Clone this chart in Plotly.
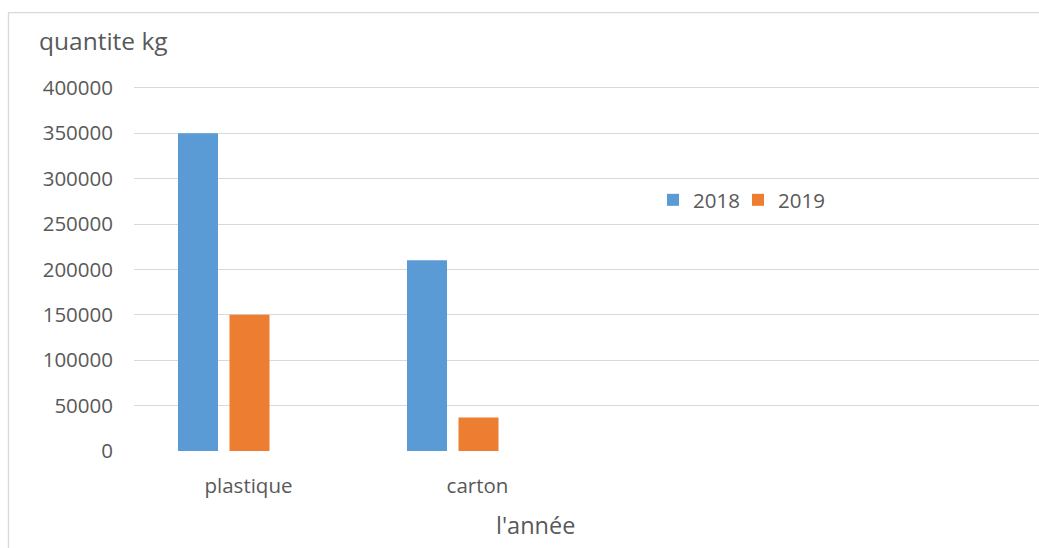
import plotly.graph_objects as go

categories = ["plastique", "carton"]
series_names = ["2018", "2019"]
values_2018 = [350000, 210000]
values_2019 = [150000, 37000]
y_ticks = [0, 50000, 100000, 150000, 200000, 250000, 300000, 350000, 400000]

colors = ["#5B9BD5", "#ED7D31"]
FONT = "Open Sans"
GRAY = "#595959"

cat_w = 229.0
bar_w = 40 / cat_w
offsets = [(177.5 - 248) / cat_w, (229 - 248) / cat_w]
legend_ids = ["legend", "legend2"]

x_pos = list(range(len(categories)))

fig = go.Figure()
for name, vals, col, off, lg in zip(series_names, [values_2018, values_2019], colors, offsets, legend_ids):
    fig.add_trace(go.Bar(
        x=x_pos, y=vals, name=name,
        marker=dict(color=col, line=dict(width=0)),
        width=bar_w, offset=off, legend=lg,
    ))

W, H = 1039, 548
left, right_px = 134, 1039
y400, bottom = 87.7, 451.3
ymax = 402000
top = bottom - (bottom - y400) * ymax / 400000

def legend_at(px):
    return dict(
        orientation="h", x=(px - left) / (right_px - left), y=1 - (200 - top) / (bottom - top),
        xanchor="left", yanchor="middle",
        font=dict(family=FONT, size=20.5, color=GRAY),
        bgcolor="rgba(0,0,0,0)", itemwidth=30,
    )

fig.update_layout(
    width=W, height=H,
    margin=dict(l=left, r=0, t=top, b=H - bottom, pad=0),
    paper_bgcolor="white", plot_bgcolor="white",
    barmode="overlay",
    font=dict(family=FONT, size=20.5, color=GRAY),
    showlegend=True,
    legend=legend_at(653),
    legend2=legend_at(738),
    xaxis=dict(
        range=[-0.5, -0.5 + (right_px - left) / cat_w],
        tickmode="array", tickvals=x_pos, ticktext=categories,
        showgrid=False, zeroline=False, showline=False, ticks="",
        ticklabelstandoff=20,
        fixedrange=True,
    ),
    yaxis=dict(
        range=[0, ymax],
        tickmode="array", tickvals=y_ticks, ticktext=[str(v) for v in y_ticks],
        showgrid=True, gridcolor="#D9D9D9", gridwidth=1.3,
        zeroline=False, showline=False, ticks="",
        ticklabelstandoff=20,
        fixedrange=True,
    ),
    annotations=[
        dict(text="quantite kg", xref="paper", yref="paper",
             x=(37 - left) / (right_px - left), y=1 + (top - 40) / (bottom - top),
             xanchor="left", yanchor="middle", showarrow=False,
             font=dict(family=FONT, size=24.5, color=GRAY)),
        dict(text="l'année", xref="paper", yref="paper",
             x=(535 - left) / (right_px - left), y=-(525 - bottom) / (bottom - top),
             xanchor="center", yanchor="middle", showarrow=False,
             font=dict(family=FONT, size=23.5, color=GRAY)),
    ],
    shapes=[
        dict(type="rect", xref="paper", yref="paper",
             x0=(8.5 - left) / (right_px - left), x1=1.2,
             y0=-0.5, y1=1 + (top - 12.5) / (bottom - top),
             line=dict(color="#D9D9D9", width=1.3), fillcolor="rgba(0,0,0,0)", layer="below"),
    ],
)

fig.write_html("out.html", config={"displayModeBar": False},
               post_script="document.body.style.margin='0';")
